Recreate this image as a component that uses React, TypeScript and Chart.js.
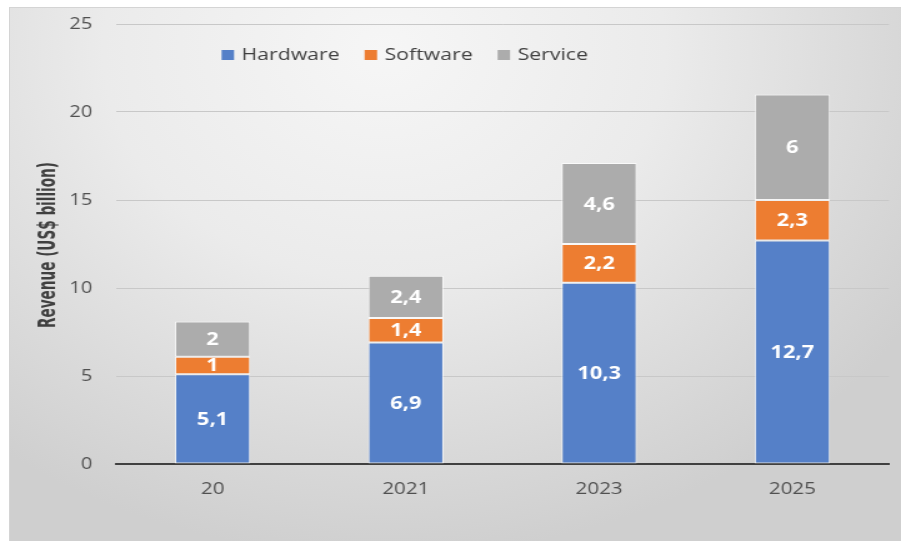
import React, { useEffect, useRef } from 'react';
import { Chart, registerables } from 'chart.js';

Chart.register(...registerables);

const categories = ['20', '2021', '2023', '2025'];
const hardware = [5.1, 6.9, 10.3, 12.7];
const software = [1, 1.4, 2.2, 2.3];
const service = [2, 2.4, 4.6, 6];
const seriesNames = ['Hardware', 'Software', 'Service'];
const seriesColors = ['#5580c8', '#ed7d31', '#acacac'];
const yMin = 0;
const yMax = 25;
const yStep = 5;
const yTitle = 'Revenue (US$ billion)';

const FONT = '"Open Sans", "DejaVu Sans", sans-serif';
// The reference is horizontally stretched; draw on a narrower canvas and scale it up with CSS.
const OUT_W = 901;
const OUT_H = 541;
const SX = 1.25;
const W = Math.round(OUT_W / SX);

const labelsPlugin = {
  id: 'barLabels',
  afterDatasetsDraw(chart: any) {
    const ctx = chart.ctx;
    ctx.save();
    ctx.font = `bold 17.5px ${FONT}`;
    ctx.fillStyle = '#ffffff';
    ctx.textAlign = 'center';
    ctx.textBaseline = 'middle';
    chart.data.datasets.forEach((ds: any, di: number) => {
      const meta = chart.getDatasetMeta(di);
      meta.data.forEach((bar: any, i: number) => {
        const v = ds.data[i];
        const text = String(v).replace('.', ',');
        const cy = (bar.y + bar.base) / 2;
        ctx.fillText(text, bar.x, cy + 1);
      });
    });
    ctx.restore();
  },
};

const legendPlugin = {
  id: 'customLegend',
  afterDraw(chart: any) {
    const ctx = chart.ctx;
    const area = chart.chartArea;
    ctx.save();
    ctx.font = `17px ${FONT}`;
    ctx.textBaseline = 'middle';
    ctx.textAlign = 'left';
    let x = area.left + 84.5;
    const y = area.top + 31;
    chart.data.datasets.forEach((ds: any) => {
      ctx.fillStyle = ds.backgroundColor;
      ctx.fillRect(x, y - 5, 10, 10);
      ctx.fillStyle = '#404040';
      ctx.fillText(ds.label, x + 16, y);
      x += 16 + ctx.measureText(ds.label).width + 20;
    });
    ctx.restore();
  },
};

const titlePlugin = {
  id: 'yTitle',
  afterDraw(chart: any) {
    const ctx = chart.ctx;
    const area = chart.chartArea;
    ctx.save();
    ctx.font = `bold 19.5px "Liberation Sans Narrow", "DejaVu Sans Condensed", sans-serif`;
    ctx.fillStyle = '#404040';
    ctx.textAlign = 'center';
    ctx.textBaseline = 'middle';
    const len = ctx.measureText(yTitle).width;
    const target = 166;
    ctx.translate(39, (area.top + area.bottom) / 2 + 1);
    ctx.rotate(-Math.PI / 2);
    if (len > 0) ctx.scale(target / len, 1);
    ctx.fillText(yTitle, 0, 0);
    ctx.restore();
  },
};

export default function App() {
  const ref = useRef<HTMLCanvasElement>(null);

  useEffect(() => {
    if (!ref.current) return;
    const values = [hardware, software, service];
    const chart = new Chart(ref.current, {
      type: 'bar',
      data: {
        labels: categories,
        datasets: seriesNames.map((name, i) => ({
          label: name,
          data: values[i],
          backgroundColor: seriesColors[i],
          borderColor: 'rgba(255,255,255,0.7)',
          borderWidth: 1,
          borderSkipped: false,
          categoryPercentage: 1,
          barPercentage: 0.39,
        })),
      },
      options: {
        responsive: false,
        animation: false,
        layout: { padding: { left: 0, right: 9.6, top: 24, bottom: 0 } },
        plugins: {
          legend: { display: false },
          tooltip: { enabled: false },
          title: { display: false },
        },
        scales: {
          x: {
            stacked: true,
            grid: { display: false, drawTicks: false },
            border: { display: true, color: '#404040', width: 2 },
            ticks: {
              color: '#505050',
              font: { family: FONT, size: 16.5 },
              padding: 15,
            },
            afterFit(s: any) {
              s.height = 77;
            },
          },
          y: {
            stacked: true,
            min: yMin,
            max: yMax,
            ticks: {
              stepSize: yStep,
              color: '#505050',
              font: { family: FONT, size: 16 },
              padding: 0,
            },
            grid: {
              color: '#c8c8c8',
              lineWidth: 1,
              drawTicks: true,
              tickLength: 19,
              tickColor: 'rgba(0,0,0,0)',
            },
            border: { display: false },
            afterFit(s: any) {
              s.width = 116 / SX;
            },
          },
        },
      },
      plugins: [labelsPlugin, legendPlugin, titlePlugin],
    });
    return () => chart.destroy();
  }, []);

  return (
    <div style={{ position: 'fixed', left: 0, top: 0, width: OUT_W, height: OUT_H, background: '#ffffff', overflow: 'hidden' }}>
      <div
        style={{
          position: 'absolute',
          left: 9,
          top: 7,
          right: 0,
          bottom: 0,
          borderTop: '1px solid #d4d4d4',
          borderLeft: '1px solid #d4d4d4',
          background:
            'radial-gradient(ellipse 70% 95% at 42% 8%, #f6f6f6 0%, #ebebeb 45%, #d9d9d9 80%, #cfcfcf 100%)',
        }}
      />
      <canvas
        ref={ref}
        width={W}
        height={OUT_H}
        style={{ position: 'absolute', left: 0, top: 0, width: OUT_W, height: OUT_H }}
      />
    </div>
  );
}
